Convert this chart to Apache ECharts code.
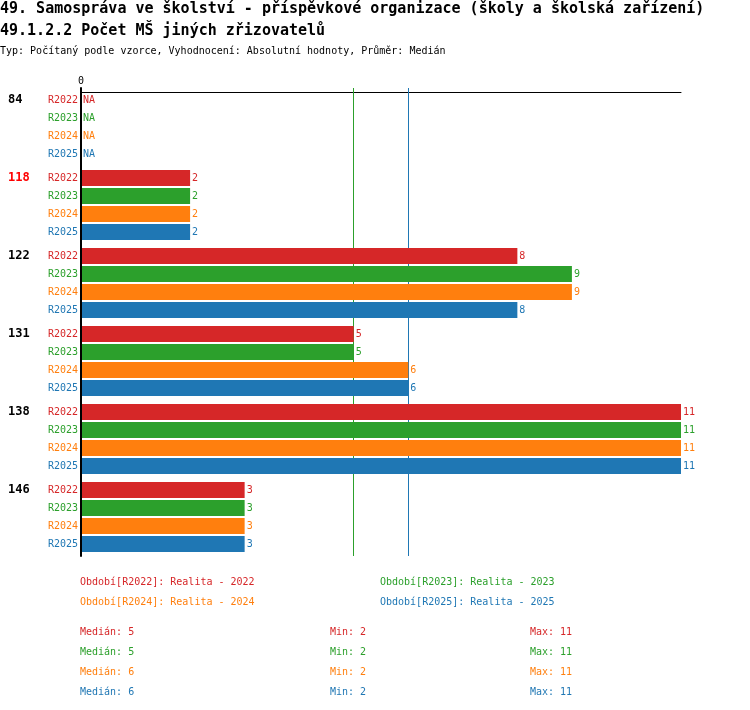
<!DOCTYPE html>
<html>
<head>
<meta charset="utf-8">
<script src="https://cdn.jsdelivr.net/npm/echarts@6/dist/echarts.min.js"></script>
<style>
  html, body { margin: 0; padding: 0; background: #fff; }
  #chart { width: 750px; height: 710px; }
</style>
</head>
<body>
<div id="chart"></div>
<script>
// data
const groups = ['84', '118', '122', '131', '138', '146'];
const highlighted = '118';
const periods = ['R2022', 'R2023', 'R2024', 'R2025'];
const periodNames = ['Realita - 2022', 'Realita - 2023', 'Realita - 2024', 'Realita - 2025'];
const colors = ['#d62728', '#2ca02c', '#ff7f0e', '#1f77b4'];
const r2022 = [null, 2, 8, 5, 11, 3];
const r2023 = [null, 2, 9, 5, 11, 3];
const r2024 = [null, 2, 9, 6, 11, 3];
const r2025 = [null, 2, 8, 6, 11, 3];
const values = [r2022, r2023, r2024, r2025];
const xTicks = [0];

const FONT = 'DejaVu Sans Mono';

function median(arr) {
  const a = arr.filter(v => v !== null).sort((x, y) => x - y);
  const m = Math.floor(a.length / 2);
  return a.length % 2 ? a[m] : (a[m - 1] + a[m]) / 2;
}
function minOf(arr) { return Math.min(...arr.filter(v => v !== null)); }
function maxOf(arr) { return Math.max(...arr.filter(v => v !== null)); }

// rich styles for the y axis labels (group name + period rows)
const rich = {
  g: { fontFamily: FONT, fontSize: 12, fontWeight: 'bold', color: '#000', align: 'left', lineHeight: 18 },
  gh: { fontFamily: FONT, fontSize: 12, fontWeight: 'bold', color: '#f00', align: 'left', lineHeight: 18 }
};
periods.forEach((p, k) => {
  rich['p' + k] = { fontFamily: FONT, fontSize: 10, color: colors[k], align: 'right', lineHeight: 18 };
});

// median lines go below the bars
const series = periods.map((p, k) => ({
  name: p,
  type: 'bar',
  z: 10,
  barWidth: 16,
  barGap: '12.5%',
  itemStyle: { color: colors[k] },
  data: values[k].map(v => v === null ? { value: 0, na: true } : v),
  label: {
    show: true,
    position: 'right',
    distance: 2,
    color: colors[k],
    fontFamily: FONT,
    fontSize: 10,
    formatter: prm => (prm.data && prm.data.na) ? 'NA' : prm.value
  },
  markLine: {
    silent: true,
    z: 1,
    symbol: 'none',
    label: { show: false },
    lineStyle: { color: colors[k], width: 1, type: 'solid', opacity: 1 },
    emphasis: { disabled: true },
    data: [{ xAxis: median(values[k]) }]
  }
}));

// legend + stats texts
const graphics = [];
periods.forEach((p, k) => {
  graphics.push({
    type: 'text',
    left: 80 + (k % 2) * 300,
    top: 577 + Math.floor(k / 2) * 20,
    style: { text: 'Období[' + p + ']: ' + periodNames[k], fill: colors[k], font: '10px "' + FONT + '"' }
  });
  const y = 627 + k * 20;
  graphics.push({
    type: 'text', left: 80, top: y,
    style: { text: 'Medián: ' + median(values[k]), fill: colors[k], font: '10px "' + FONT + '"' }
  });
  graphics.push({
    type: 'text', left: 330, top: y,
    style: { text: 'Min: ' + minOf(values[k]), fill: colors[k], font: '10px "' + FONT + '"' }
  });
  graphics.push({
    type: 'text', left: 530, top: y,
    style: { text: 'Max: ' + maxOf(values[k]), fill: colors[k], font: '10px "' + FONT + '"' }
  });
});

const chart = echarts.init(document.getElementById('chart'));
chart.setOption({
  animation: false,
  title: {
    text: '49. Samospráva ve školství - příspěvkové organizace (školy a školská zařízení)\n49.1.2.2 Počet MŠ jiných zřizovatelů',
    subtext: 'Typ: Počítaný podle vzorce, Vyhodnocení: Absolutní hodnoty, Průměr: Medián',
    left: 0,
    top: -2,
    padding: 0,
    itemGap: 3,
    textStyle: { fontFamily: FONT, fontSize: 15, fontWeight: 'bold', color: '#000', lineHeight: 22 },
    subtextStyle: { fontFamily: FONT, fontSize: 10, color: '#000', lineHeight: 12 }
  },
  grid: { left: 81, right: 69, top: 88, height: 468, containLabel: false },
  xAxis: {
    type: 'value',
    position: 'top',
    min: 0,
    max: 11,
    offset: -4,
    axisLine: { show: true, lineStyle: { color: '#000', width: 1 } },
    axisTick: { show: false },
    splitLine: { show: false },
    axisLabel: {
      margin: 6,
      fontFamily: FONT,
      fontSize: 10,
      color: '#000',
      formatter: v => xTicks.includes(v) ? String(v) : ''
    }
  },
  yAxis: {
    type: 'category',
    inverse: true,
    data: groups,
    z: 20,
    axisLine: { show: true, lineStyle: { color: '#000', width: 2 } },
    axisTick: { show: false },
    axisLabel: {
      margin: 3,
      width: 70,
      lineHeight: 18,
      formatter: v => periods.map((p, k) =>
        (k === 0 ? '{' + (v === highlighted ? 'gh' : 'g') + '|' + v + '}' : '') + '{p' + k + '|' + p + '}'
      ).join('\n'),
      rich: rich
    }
  },
  series: series,
  graphic: graphics
});
</script>
</body>
</html>
